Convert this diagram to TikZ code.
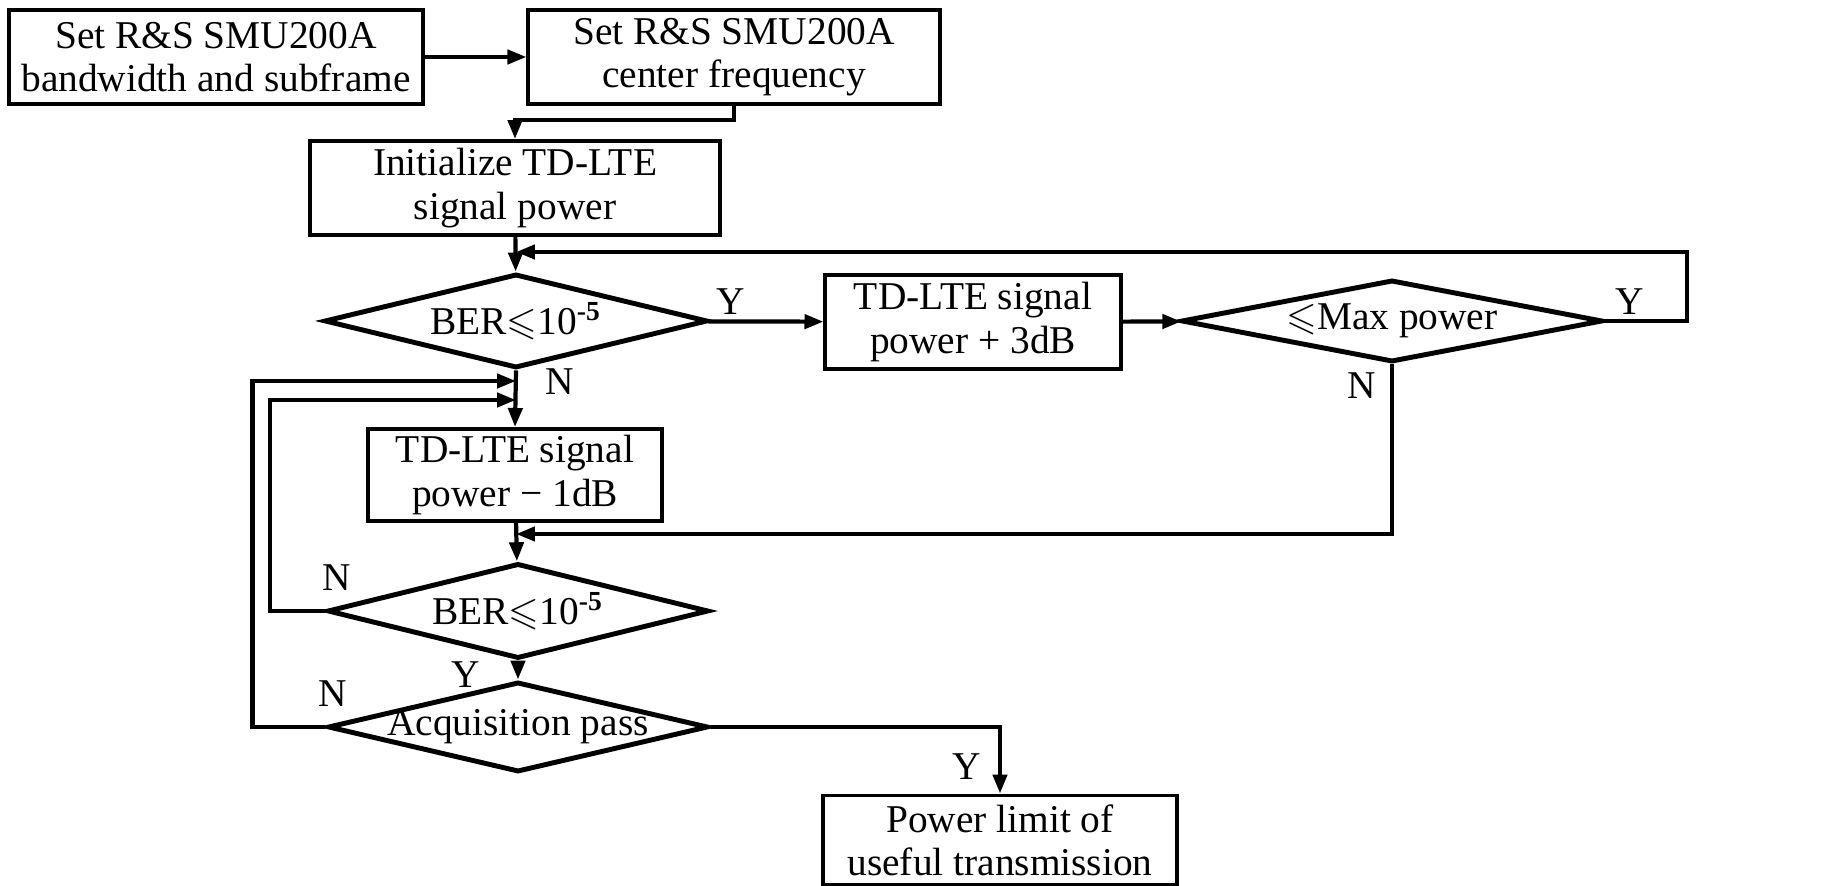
\documentclass[tikz,border=0pt]{standalone}
\usepackage{amssymb}
\usepackage{fontspec}
\setmainfont{Liberation Serif}
\usetikzlibrary{shapes.geometric,arrows.meta}

\newcommand\slim[1]{\makebox[0pt]{\raisebox{-1.5pt}{#1}}}  % text of a diamond does not widen it
\newcommand\ber{BER$\leqslant$10\textsuperscript{\textbf{-5}}}

\tikzset{
  box/.style={draw, line width=1.1pt, inner sep=0pt, align=center},
  test/.style={draw, diamond, line width=1.4pt, inner sep=0pt, aspect=4},
  lbl/.style={inner sep=0pt},
}

\begin{document}
\begin{tikzpicture}[x=0.01cm, y=-0.01cm, line width=1.2pt,
  >={Triangle[length=5.4pt,width=4pt]},
  font=\fontsize{11.2}{12.3}\selectfont]
\useasboundingbox (0,0) rectangle (1823,886);
% top row
\node[box, minimum width=4.13cm, minimum height=0.94cm] (bw) at (216,57) {Set R\&S SMU200A\\bandwidth and subframe};
\node[box, minimum width=4.11cm, minimum height=0.94cm] (cf) at (734,57) {Set R\&S SMU200A\\center frequency};
\node[box, minimum width=4.1cm, minimum height=0.94cm] (init) at (515,188) {Initialize TD-LTE\\signal power};
% first test and the +3dB loop
\node[test, minimum width=3.83cm, minimum height=0.94cm] (ber1) at (516,321) {\slim{\ber}};
\node[box, minimum width=2.95cm, minimum height=0.94cm] (up) at (973,322) {TD-LTE signal\\power + 3dB};
\node[test, minimum width=4.21cm, minimum height=0.82cm] (maxp) at (1392,321) {\slim{$\leqslant$Max power}};
% second column, going down
\node[box, minimum width=2.93cm, minimum height=0.92cm] (down) at (515,475) {TD-LTE signal\\power − 1dB};
\node[test, minimum width=3.81cm, minimum height=0.95cm] (ber2) at (518,611) {\slim{\ber}};
\node[test, minimum width=3.80cm, minimum height=0.90cm] (acq) at (518,727) {\slim{Acquisition pass}};
\node[box, minimum width=3.53cm, minimum height=0.89cm] (limit) at (1000,840) {Power limit of\\useful transmission};
% join points
\coordinate (back) at (516,252);
\coordinate (in1) at (516,381);
\coordinate (in2) at (516,400);
\coordinate (in3) at (516,534);
% connectors
\draw[->] (bw) -- (cf);
\draw[->] (cf.south) -- ++(0,14) -| (init.north);
\draw[->] (init) -- (ber1);
\draw[->] (ber1) -- (up);
\draw[->] (up) -- (maxp);
\draw[->] (maxp.east) -- ++(82,0) |- (back);
\draw[->] (ber1.south) -- (down.north);
\draw[->] (maxp.south) |- (in3);
\draw[->] (down) -- (ber2);
\draw[->] (ber2.west) -- ++(-55,0) |- (in2);
\draw[->] (ber2) -- (acq);
\draw[->] (acq.west) -- ++(-73,0) |- (in1);
\draw[->] (acq.east) -| (limit.north);
% Y / N
\node[lbl] (y1) at (731,302) {Y};
\node[lbl] (n1) at (560,382) {N};
\node[lbl] (y2) at (1630,302) {Y};
\node[lbl] (n2) at (1362,386) {N};
\node[lbl] (n3) at (337,578) {N};
\node[lbl] (y3) at (466,675) {Y};
\node[lbl] (n4) at (333,694) {N};
\node[lbl] (y4) at (967,767) {Y};
\end{tikzpicture}
\end{document}
